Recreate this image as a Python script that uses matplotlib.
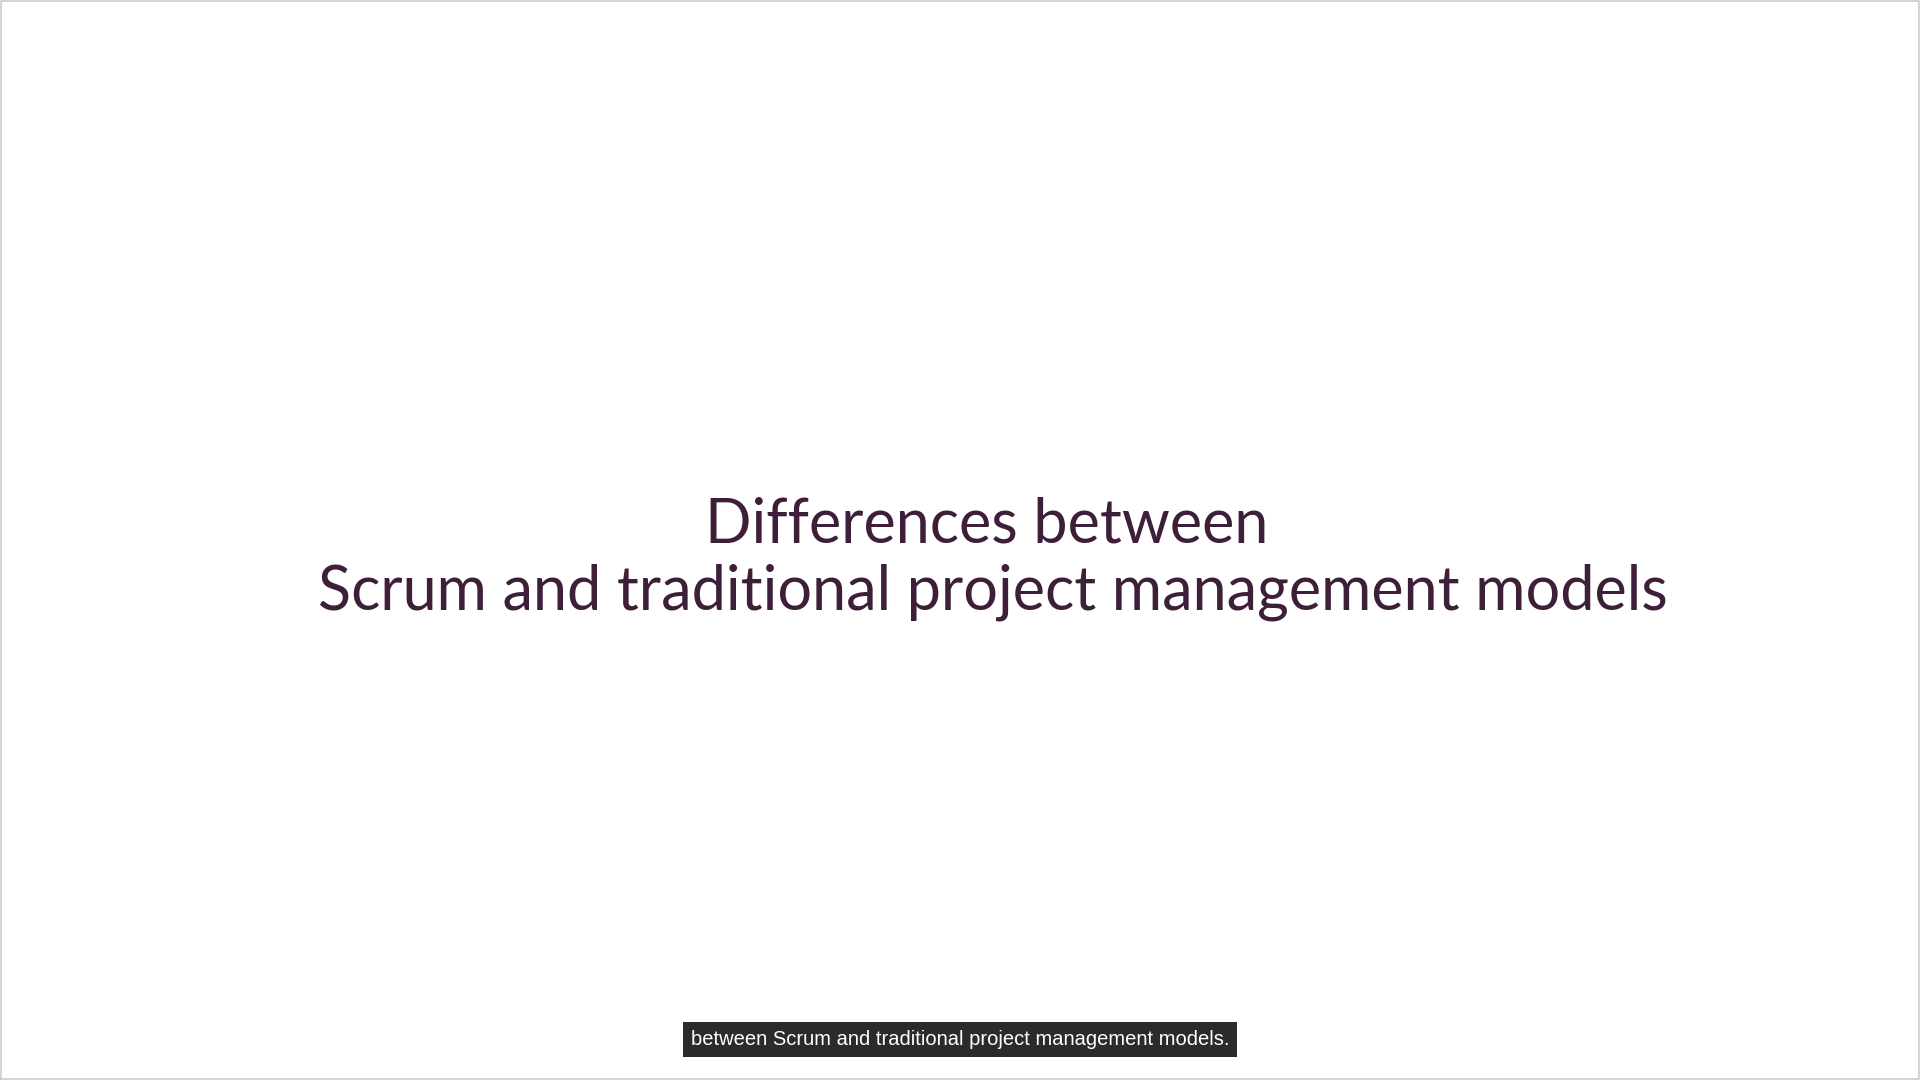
import matplotlib.pyplot as plt

title_lines = ["Differences between", "Scrum and traditional project management models"]
caption = "between Scrum and traditional project management models."

fig = plt.figure(figsize=(19.2, 10.8), dpi=100)
fig.patch.set_facecolor("white")
ax = fig.add_axes([0, 0, 1, 1])
ax.set_xlim(0, 1)
ax.set_ylim(0, 1)
ax.axis("off")

# thin frame around the slide
ax.plot([0.0005, 0.9995, 0.9995, 0.0005, 0.0005], [0.0005, 0.0005, 0.9995, 0.9995, 0.0005],
        color="#cccccc", lw=1.2)

ys = [1 - 429 / 882, 1 - 484 / 882]
xs = [806 / 1568, 811 / 1568]
for x, y, t in zip(xs, ys, title_lines):
    ax.text(x, y, t, ha="center", va="center", fontsize=44, color="#3d1f3a",
            family="Lato", fontweight="normal")

ax.text(784 / 1568, 1 - 849 / 882, caption, ha="center", va="center", fontsize=14.5,
        color="white", family="Liberation Sans",
        bbox=dict(boxstyle="square,pad=0.4", fc="#2b2b2b", ec="none"))

fig.savefig("out.png", dpi=100, facecolor="white")
